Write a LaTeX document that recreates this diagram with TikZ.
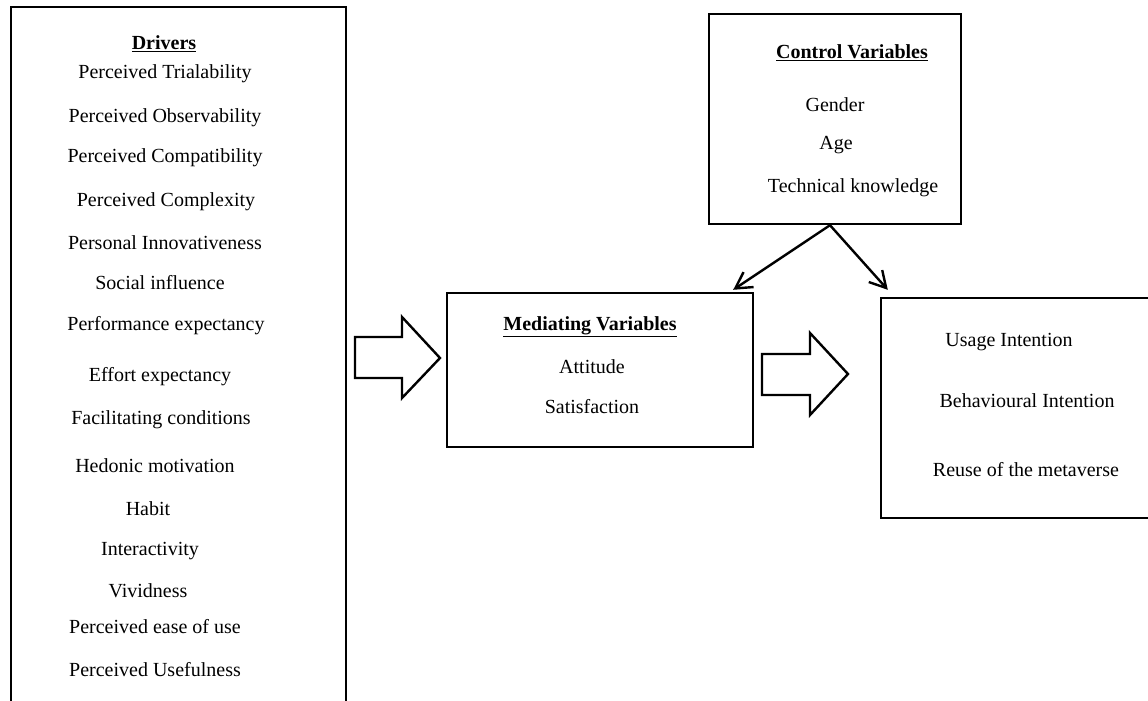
\documentclass[tikz,border=0pt]{standalone}
\usepackage{fontspec}
\setmainfont{Liberation Serif}
\usetikzlibrary{arrows.meta}
\tikzset{
  box/.style={draw,line width=2.4pt,inner sep=0pt},
  lbl/.style={inner sep=0pt,anchor=center},
  arr/.style={line width=2.4pt,-{Straight Barb[length=16pt,width=18pt]}},
  fat/.style={draw,line width=2.4pt,line join=miter}
}
\begin{document}
\begin{tikzpicture}[x=1pt,y=-1pt,font=\fontsize{20}{24}\selectfont]
			\useasboundingbox (0,0) rectangle (1148,701);
			% boxes
			\node[box,minimum width=335pt,minimum height=702pt] (drv) at (178.5,358) {};
			\node[box,minimum width=252pt,minimum height=210pt] (ctrl) at (835,119) {};
			\node[box,minimum width=306pt,minimum height=154pt] (med) at (600,370) {};
			\node[box,minimum width=290pt,minimum height=220pt] (out) at (1026,408) {};
			% drivers
			\node[lbl] (dh) at (164,44) {\underline{\textbf{Drivers}}};
			\node[lbl] (d1) at (165,74) {Perceived Trialability};
			\node[lbl] (d2) at (165,118) {Perceived Observability};
			\node[lbl] (d3) at (165,158) {Perceived Compatibility};
			\node[lbl] (d4) at (166,202) {Perceived Complexity};
			\node[lbl] (d5) at (165,243) {Personal Innovativeness};
			\node[lbl] (d6) at (160,283) {Social influence};
			\node[lbl] (d7) at (166,326) {Performance expectancy};
			\node[lbl] (d8) at (160,377) {Effort expectancy};
			\node[lbl] (d9) at (161,420) {Facilitating conditions};
			\node[lbl] (d10) at (155,466) {Hedonic motivation};
			\node[lbl] (d11) at (148,509) {Habit};
			\node[lbl] (d12) at (150,551) {Interactivity};
			\node[lbl] (d13) at (148,591) {Vividness};
			\node[lbl] (d14) at (155,627) {Perceived ease of use};
			\node[lbl] (d15) at (155,670) {Perceived Usefulness};
			% control variables
			\node[lbl] (ch) at (852,53) {\underline{\textbf{Control Variables}}};
			\node[lbl] (c1) at (835,105) {Gender};
			\node[lbl] (c2) at (836,145) {Age};
			\node[lbl] (c3) at (853,188) {Technical knowledge};
			% mediating variables
			\node[lbl] (mh) at (590,327) {\underline{\textbf{Mediating Variables}}};
			\node[lbl] (m1) at (592,367) {Attitude};
			\node[lbl] (m2) at (592,407) {Satisfaction};
			% outcomes
			\node[lbl] (o1) at (1009,342) {Usage Intention};
			\node[lbl] (o2) at (1027,401) {Behavioural Intention};
			\node[lbl] (o3) at (1026,470) {Reuse of the metaverse};
			% block arrows
			\draw[fat] (355,337) -- (402,337) -- (402,317) -- (440,358) -- (402,398)
				-- (402,378) -- (355,378) -- cycle;
			\draw[fat] (762,354) -- (810,354) -- (810,333) -- (848,374) -- (810,415)
				-- (810,395) -- (762,395) -- cycle;
			% control arrows
			\draw[arr] ([xshift=-5pt]ctrl.south) -- ([xshift=-21pt,yshift=2pt]med.north east);
			\draw[arr] ([xshift=-5pt]ctrl.south) -- ([xshift=8pt,yshift=7pt]out.north west);
		\end{tikzpicture}
\end{document}
